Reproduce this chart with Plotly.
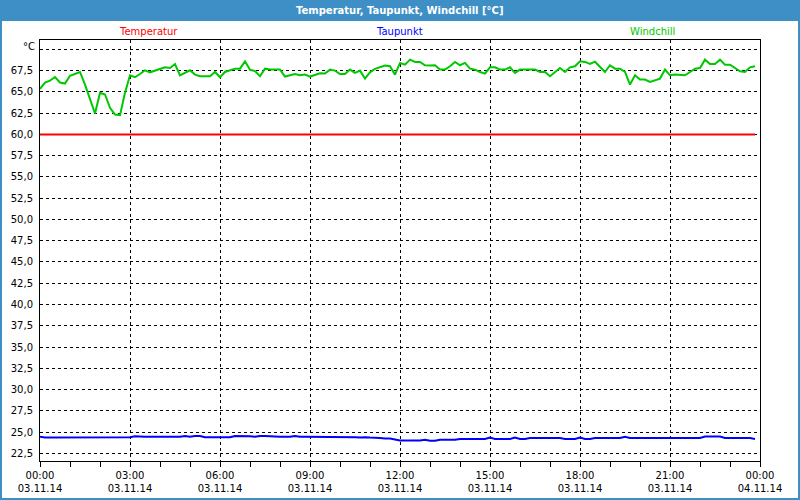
import pandas as pd
import plotly.graph_objects as go

# ---- data -------------------------------------------------------------
start_time = "2014-11-03 00:00"
n_points = 144  # 10-minute samples over one day
times = pd.date_range(start_time, periods=n_points, freq="10min")

windchill = [
    # 00:00 - 05:50
    65.35, 66.10, 66.33, 66.75, 66.10, 65.98, 66.90, 67.10, 67.34, 65.86, 64.10, 62.46,
    64.88, 64.69, 63.13, 62.34, 62.27, 64.90, 66.95, 66.72, 67.10, 67.54, 67.30, 67.50,
    67.62, 67.89, 67.81, 68.28, 66.95, 67.23, 67.54, 67.03, 66.84, 66.84, 66.84, 67.34,
    # 06:00 - 11:50
    66.72, 67.34, 67.50, 67.73, 67.73, 68.59, 67.60, 67.45, 66.84, 67.73, 67.62, 67.62,
    67.62, 66.80, 66.95, 67.10, 66.95, 67.03, 66.80, 67.03, 67.19, 67.15, 67.62, 67.50,
    67.10, 67.10, 67.62, 67.23, 67.50, 66.56, 67.30, 67.70, 67.90, 68.10, 68.01, 67.03,
    # 12:00 - 17:50
    68.40, 68.20, 68.79, 68.52, 68.52, 68.13, 68.09, 68.13, 67.62, 67.62, 68.01, 68.52,
    68.13, 68.40, 67.73, 67.62, 67.34, 67.15, 67.89, 67.89, 67.62, 67.62, 67.89, 67.23,
    67.62, 67.62, 67.62, 67.62, 67.34, 67.34, 66.84, 67.34, 67.81, 67.34, 67.89, 68.01,
    # 18:00 - 23:50
    68.59, 68.52, 68.28, 68.55, 68.00, 67.34, 68.13, 67.73, 67.73, 67.34, 65.86, 66.95,
    66.45, 66.45, 66.17, 66.33, 66.56, 67.62, 66.95, 67.03, 67.03, 66.95, 67.34, 67.73,
    67.81, 68.79, 68.28, 68.28, 68.79, 68.20, 68.20, 67.81, 67.42, 67.34, 67.89, 68.01,
]

taupunkt = [
    # 00:00 - 11:50
    24.45, 24.35, 24.35, 24.35, 24.35, 24.35, 24.42, 24.35, 24.35, 24.35, 24.35, 24.40,
    24.40, 24.40, 24.40, 24.40, 24.40, 24.40, 24.40, 24.52, 24.45, 24.45, 24.45, 24.45,
    24.45, 24.45, 24.45, 24.45, 24.45, 24.55, 24.45, 24.55, 24.55, 24.40, 24.40, 24.40,
    24.40, 24.40, 24.40, 24.55, 24.55, 24.55, 24.50, 24.45, 24.55, 24.55, 24.50, 24.45,
    24.45, 24.45, 24.45, 24.55, 24.45, 24.45, 24.45, 24.45, 24.45, 24.45, 24.45, 24.45,
    24.45, 24.45, 24.45, 24.40, 24.35, 24.40, 24.35, 24.35, 24.30, 24.25, 24.25, 24.13,
    # 12:00 - 23:50
    24.00, 24.00, 24.00, 24.00, 24.00, 24.10, 23.97, 23.97, 24.10, 24.10, 24.10, 24.10,
    24.20, 24.20, 24.20, 24.20, 24.20, 24.20, 24.35, 24.20, 24.20, 24.20, 24.20, 24.35,
    24.20, 24.20, 24.30, 24.30, 24.30, 24.30, 24.30, 24.30, 24.30, 24.20, 24.20, 24.20,
    24.35, 24.20, 24.20, 24.30, 24.30, 24.30, 24.30, 24.30, 24.30, 24.45, 24.30, 24.30,
    24.30, 24.30, 24.30, 24.30, 24.30, 24.30, 24.30, 24.30, 24.30, 24.30, 24.30, 24.30,
    24.30, 24.48, 24.48, 24.48, 24.48, 24.30, 24.30, 24.30, 24.30, 24.30, 24.30, 24.20,
]

temperatur = [60.0] * n_points

y_tick_values = [22.5, 25.0, 27.5, 30.0, 32.5, 35.0, 37.5, 40.0, 42.5, 45.0, 47.5,
                 50.0, 52.5, 55.0, 57.5, 60.0, 62.5, 65.0, 67.5, 70.0]
y_tick_labels = ["22,5", "25,0", "27,5", "30,0", "32,5", "35,0", "37,5", "40,0", "42,5",
                 "45,0", "47,5", "50,0", "52,5", "55,0", "57,5", "60,0", "62,5", "65,0",
                 "67,5", ""]

x_tick_values = ["2014-11-03 00:00", "2014-11-03 03:00", "2014-11-03 06:00",
                 "2014-11-03 09:00", "2014-11-03 12:00", "2014-11-03 15:00",
                 "2014-11-03 18:00", "2014-11-03 21:00", "2014-11-04 00:00"]
x_tick_labels = ["00:00<br>03.11.14", "03:00<br>03.11.14", "06:00<br>03.11.14",
                 "09:00<br>03.11.14", "12:00<br>03.11.14", "15:00<br>03.11.14",
                 "18:00<br>03.11.14", "21:00<br>03.11.14", "00:00<br>04.11.14"]

series_names = ["Temperatur", "Taupunkt", "Windchill"]
series_colors = ["#ff0000", "#0000ff", "#00c800"]

title_text = "Temperatur, Taupunkt, Windchill [°C]"
unit_text = "°C"

# ---- figure -----------------------------------------------------------
W, H = 800, 500
ML, MR, MT, MB = 40, 40, 40, 39
PW, PH = W - ML - MR, H - MT - MB
BAR = "#3d8fc6"
FONT = "DejaVu Sans"


def px_x(px):
    return (px - ML) / PW


def px_y(py):
    return (H - MB - py) / PH


fig = go.Figure()
for name, vals, col in zip(series_names, [temperatur, taupunkt, windchill], series_colors):
    fig.add_trace(go.Scatter(x=times, y=vals, mode="lines", name=name,
                             line=dict(color=col, width=2), hoverinfo="skip"))

fig.update_layout(
    width=W, height=H,
    margin=dict(l=ML, r=MR, t=MT, b=MB, pad=0, autoexpand=False),
    paper_bgcolor=BAR,
    plot_bgcolor="white",
    showlegend=False,
    font=dict(family=FONT, size=10, color="black"),
)

fig.update_xaxes(
    range=["2014-11-03 00:00", "2014-11-04 00:00"],
    tickmode="array", tickvals=x_tick_values, ticktext=x_tick_labels,
    showgrid=True, gridcolor="black", gridwidth=1, griddash="3px,3px",
    showline=True, linecolor="black", linewidth=1, mirror=True,
    ticks="outside", ticklen=5, tickcolor="black", tickwidth=1,
    minor=dict(dtick=3600000, ticks="outside", ticklen=5, tickcolor="black",
               showgrid=False),
    zeroline=False, automargin=False,
    tickfont=dict(family=FONT, size=10, color="black"),
)

fig.update_yaxes(
    range=[21.6, 71.1],
    tickmode="array", tickvals=y_tick_values, ticktext=y_tick_labels,
    showgrid=True, gridcolor="black", gridwidth=1, griddash="3px,3px",
    showline=True, linecolor="black", linewidth=1, mirror=True,
    ticks="", ticklabelstandoff=4,
    zeroline=False, automargin=False,
    tickfont=dict(family=FONT, size=10, color="black"),
)

# white body inside blue frame
fig.add_shape(type="rect", xref="paper", yref="paper",
              x0=px_x(2), x1=px_x(798), y0=px_y(498), y1=px_y(21),
              fillcolor="white", line=dict(width=0), layer="below")

# title
fig.add_annotation(text="<b>" + title_text + "</b>", xref="paper", yref="paper",
                   x=px_x(400), y=px_y(10.5), xanchor="center", yanchor="middle",
                   showarrow=False, font=dict(family=FONT, size=10, color="white"))

# series labels
label_x = [148, 399, 652]
for name, col, lx in zip(series_names, series_colors, label_x):
    fig.add_annotation(text=name, xref="paper", yref="paper",
                       x=px_x(lx), y=px_y(32), xanchor="center", yanchor="middle",
                       showarrow=False, font=dict(family=FONT, size=10, color=col))

# unit label
fig.add_annotation(text=unit_text, xref="paper", yref="paper",
                   x=px_x(37), y=px_y(46), xanchor="right", yanchor="middle",
                   showarrow=False, font=dict(family=FONT, size=10, color="black"))

fig.write_html("out.html")
